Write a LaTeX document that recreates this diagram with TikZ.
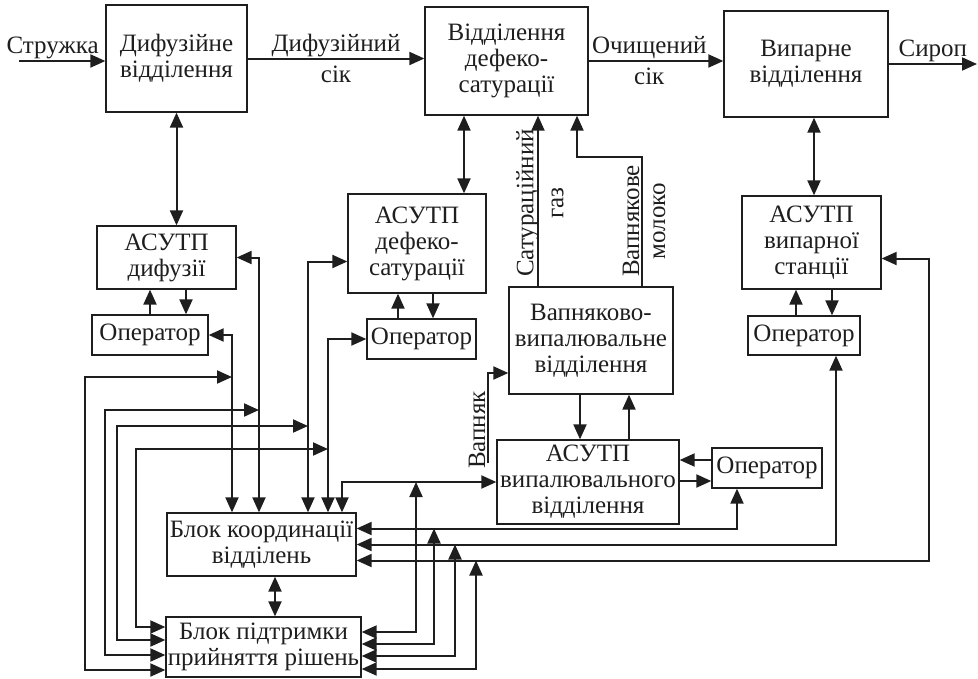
\documentclass[tikz,border=0pt]{standalone}
\usepackage{fontspec}
\setmainfont{Liberation Serif}
\usetikzlibrary{arrows.meta, calc, positioning}
\definecolor{ink}{HTML}{1E1E1E}
\tikzset{
  >={Triangle[length=15pt, width=13pt]},
  block/.style={draw=ink, line width=1.3pt, align=center, inner sep=0pt, text=ink,
                font=\fontsize{25}{26}\selectfont},
  sig/.style={->, draw=ink, line width=2pt},
  lbl/.style={font=\fontsize{25}{26}\selectfont, text=ink, inner sep=1pt},
}

\begin{document}
\begin{tikzpicture}[x=1pt, y=-1pt]
  \useasboundingbox (0,0) rectangle (978,678);
  % departments
  \node[block, minimum width=141pt, minimum height=107pt] (dif) at (176.5,58.5) {Дифузійне\\відділення};
  \node[block, minimum width=163pt, minimum height=108pt] (def) at (506.5,61) {Відділення\\дефеко-\\сатурації};
  \node[block, minimum width=164pt, minimum height=106pt] (vyp) at (806,64) {Випарне\\відділення};
  \node[block, minimum width=164pt, minimum height=107pt] (vv) at (591,340.5) {Вапняково-\\випалювальне\\відділення};
  % control systems
  \node[block, minimum width=139pt, minimum height=63pt] (adif) at (166.5,257.5) {АСУТП\\дифузії};
  \node[block, minimum width=138pt, minimum height=99pt] (adef) at (417,243.5) {АСУТП\\дефеко-\\сатурації};
  \node[block, minimum width=139pt, minimum height=93pt] (avyp) at (811.5,242.5) {АСУТП\\випарної\\станції};
  \node[block, minimum width=182pt, minimum height=84pt] (avip) at (588,482) {АСУТП\\випалювального\\відділення};
  % operators
  \node[block, minimum width=116pt, minimum height=40pt] (odif) at (150,335) {Оператор};
  \node[block, minimum width=109pt, minimum height=40pt] (odef) at (421.5,339) {Оператор};
  \node[block, minimum width=112pt, minimum height=39pt] (ovyp) at (804,335.5) {Оператор};
  \node[block, minimum width=110pt, minimum height=40pt] (ovip) at (767,468) {Оператор};
  % coordination and decision support
  \node[block, minimum width=189pt, minimum height=63pt] (koord) at (261.5,544.5) {Блок координації\\відділень};
  \node[block, minimum width=195pt, minimum height=60pt] (bpr) at (263.5,647) {Блок підтримки\\прийняття рішень};
  % free ends and junctions
  \coordinate (in) at (19,61);
  \coordinate (out) at (977,64);
  \coordinate (vpk) at (488,463);
  \coordinate (k1) at ([xshift=-29.5pt]koord.north);
  \coordinate (k2) at ([xshift=-2.5pt]koord.north);
  \coordinate (k3) at ([xshift=46.5pt]koord.north);
  \coordinate (k4) at ([xshift=66.5pt]koord.north);
  \coordinate (k5) at ([xshift=80.5pt]koord.north);
  \coordinate (j1) at (232,377);
  \coordinate (j2) at (259,410);
  \coordinate (j3) at (308,426);
  \coordinate (j4) at (328,449);
  \coordinate (j5) at (416,482);
  \coordinate (j6) at (434,528.5);
  \coordinate (j7) at (455,544.5);
  \coordinate (j8) at (476,560.5);
  % main flow
  \draw[sig] (in) -- node[lbl, above, pos=0.39] (l1) {Стружка} (in -| dif.west);
  \draw[sig] (dif.east) -- node[lbl, above] (l2a) {Дифузійний} node[lbl, below=5pt] (l2b) {сік} (dif.east -| def.west);
  \draw[sig] (def.east) -- node[lbl, above, pos=0.45] (l3a) {Очищений} node[lbl, below=5pt, pos=0.45] (l3b) {сік} (def.east -| vyp.west);
  \draw[sig] (vyp.east) -- node[lbl, above] (l4) {Сироп} (out);
  % departments - control systems
  \draw[sig, <->] (dif.south) -- (dif.south |- adif.north);
  \draw[sig, <->] ([xshift=-42.5pt]def.south) -- ([xshift=47pt]adef.north);
  \draw[sig, <->] ([xshift=8pt]vyp.south) -- ([xshift=2.5pt]avyp.north);
  \draw[sig] ([xshift=-11pt]vv.south) -- ([xshift=-8pt]avip.north);
  \draw[sig] ([xshift=41pt]avip.north) -- ([xshift=38pt]vv.south);
  % operators
  \draw[sig] (odif.north) -- (odif.north |- adif.south);
  \draw[sig] ([xshift=19.5pt]adif.south) -- ([xshift=36pt]odif.north);
  \draw[sig] ([xshift=-23.5pt]odef.north) -- ([xshift=-19pt]adef.south);
  \draw[sig] ([xshift=16pt]adef.south) -- ([xshift=11.5pt]odef.north);
  \draw[sig] ([xshift=-8pt]ovyp.north) -- ([xshift=-15.5pt]avyp.south);
  \draw[sig] ([xshift=20.5pt]avyp.south) -- ([xshift=28pt]ovyp.north);
  \draw[sig] ([yshift=8pt]ovip.west) -- ([yshift=22pt]avip.east);
  \draw[sig] ([yshift=1pt]avip.east) -- ([yshift=-13pt]ovip.west);
  % lime kiln products
  \draw[sig] ([xshift=-53pt]vv.north) -- ([xshift=31.5pt]def.south);
  \node[lbl, rotate=90, align=center] (l5) at (540,203) {Сатураційний\\[4pt]газ};
  \draw[sig] ([xshift=51pt]vv.north) -- ++(0,-129) -| ([xshift=70.5pt]def.south);
  \node[lbl, rotate=90, align=center] (l6) at (644,221) {Вапнякове\\молоко};
  \draw[sig] (vpk) |- ([yshift=-32.5pt]vv.west);
  \node[lbl, rotate=90] (l7) at (477,430) {Вапняк};
  % coordination links
  \draw[sig, <->] (odif.east) -| (k1);
  \draw[sig, <->] (adif.east) -| (k2);
  \draw[sig, <->] ([yshift=-18pt]adef.west) -| (k3);
  \draw[sig, <->] (odef.west) -| (k4);
  \draw[sig, <->] (avip.west) -| (k5);
  \draw[sig, <->] ([yshift=16pt]koord.east) -| ([xshift=-30pt]ovip.south);
  \draw[sig, <->] (koord.east) -| ([xshift=32pt]ovyp.south);
  \draw[sig, <->] ([yshift=-16pt]koord.east) -- ++(572,0) |- ([yshift=-16pt]avyp.east);
  \draw[sig, <->] ([xshift=13.5pt]koord.south) -- ([xshift=11.5pt]bpr.north);
  % decision support links
  \draw[sig, <->] ([yshift=-23pt]bpr.west) -- ++(-80,0) |- (j1);
  \draw[sig, <->] ([yshift=-8pt]bpr.west) -- ++(-60,0) |- (j2);
  \draw[sig, <->] ([yshift=7pt]bpr.west) -- ++(-48,0) |- (j3);
  \draw[sig, <->] ([yshift=20pt]bpr.west) -- ++(-29,0) |- (j4);
  \draw[sig, <->] ([yshift=15pt]bpr.east) -| (j5);
  \draw[sig, <->] ([yshift=3pt]bpr.east) -| (j6);
  \draw[sig, <->] ([yshift=-9pt]bpr.east) -| (j7);
  \draw[sig, <->] ([yshift=-22pt]bpr.east) -| (j8);
\end{tikzpicture}
\end{document}
